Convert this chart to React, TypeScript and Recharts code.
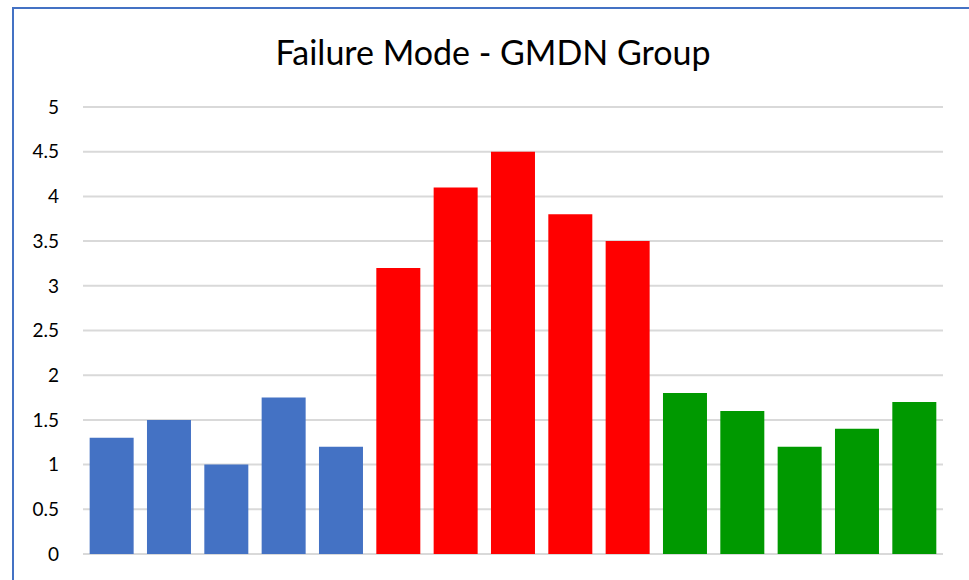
import React from "react";
import { Bar, BarChart, CartesianGrid, Cell, XAxis, YAxis } from "recharts";

const categories = [
  "B1", "B2", "B3", "B4", "B5",
  "R1", "R2", "R3", "R4", "R5",
  "G1", "G2", "G3", "G4", "G5",
];
const values = [1.3, 1.5, 1.0, 1.75, 1.2, 3.2, 4.1, 4.5, 3.8, 3.5, 1.8, 1.6, 1.2, 1.4, 1.7];
const groups = ["blue", "blue", "blue", "blue", "blue", "red", "red", "red", "red", "red", "green", "green", "green", "green", "green"];
const yTicks = [0, 0.5, 1, 1.5, 2, 2.5, 3, 3.5, 4, 4.5, 5];

const groupColor: Record<string, string> = {
  blue: "#4472C4",
  red: "#FF0000",
  green: "#009900",
};

const data = categories.map((name, i) => ({ name, value: values[i], group: groups[i] }));

export default function App() {
  return (
    <div style={{ position: "absolute", left: 0, top: 0, width: 969, height: 580, background: "#fff", overflow: "hidden" }}>
      <div
        style={{
          position: "absolute",
          left: 12,
          top: 7,
          width: 1000,
          height: 600,
          borderLeft: "2px solid #4472C4",
          borderTop: "2px solid #4472C4",
        }}
      />
      <div
        style={{
          position: "absolute",
          left: 193,
          width: 600,
          top: 29,
          textAlign: "center",
          fontFamily: "Lato",
          fontSize: 34,
          color: "#000",
          lineHeight: "46px",
        }}
      >
        Failure Mode - GMDN Group
      </div>
      <BarChart
        width={969}
        height={580}
        data={data}
        margin={{ top: 107, right: 26, bottom: 26, left: 0 }}
        barCategoryGap="11.6%"
        style={{ position: "absolute", left: 0, top: 0 }}
      >
        <CartesianGrid vertical={false} stroke="#D9D9D9" strokeWidth={2} />
        <XAxis dataKey="name" hide />
        <YAxis
          width={83}
          domain={[0, 5]}
          ticks={yTicks}
          axisLine={false}
          tickLine={false}
          tickSize={0}
          tickMargin={24}
          tick={{ fill: "#000", fontSize: 19, fontFamily: "Lato" }}
        />
        <Bar dataKey="value" isAnimationActive={false}>
          {data.map((d) => (
            <Cell key={d.name} fill={groupColor[d.group]} />
          ))}
        </Bar>
      </BarChart>
    </div>
  );
}
